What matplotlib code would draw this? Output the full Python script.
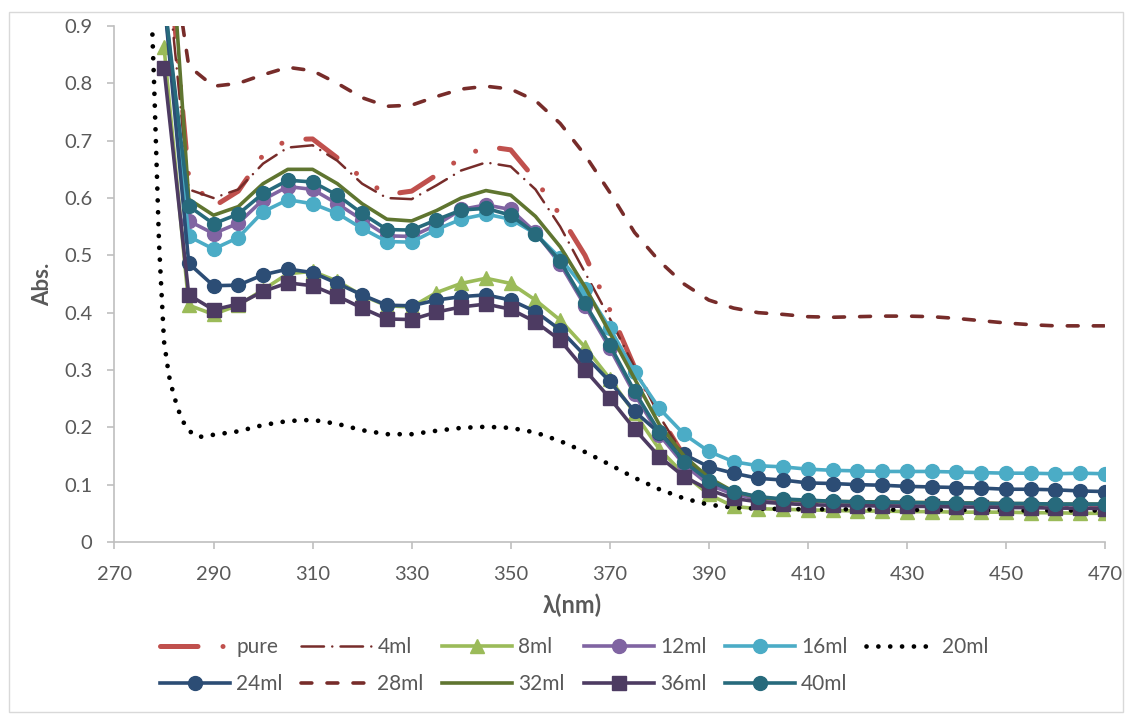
import numpy as np
import matplotlib
matplotlib.use('Agg')
import matplotlib.pyplot as plt
from matplotlib.patches import Rectangle

plt.rcParams['font.family'] = ['Lato', 'DejaVu Sans']

# longitud de onda (nm), cada 5 nm
wl = np.arange(280, 471, 5)

pure = [1.11, 0.635, 0.585, 0.612, 0.675, 0.702, 0.703, 0.670, 0.635, 0.606,
        0.612, 0.640, 0.670, 0.690, 0.684, 0.632, 0.570, 0.500, 0.405, 0.305,
        0.220, 0.150, 0.100, 0.080, 0.073, 0.071, 0.070, 0.069, 0.068, 0.068,
        0.067, 0.067, 0.066, 0.066, 0.065, 0.065, 0.064, 0.064, 0.063]
ml4 = [1.05, 0.615, 0.600, 0.615, 0.660, 0.688, 0.692, 0.665, 0.625, 0.600,
       0.598, 0.622, 0.648, 0.662, 0.655, 0.615, 0.550, 0.470, 0.390, 0.305,
       0.220, 0.150, 0.105, 0.082, 0.075, 0.072, 0.071, 0.070, 0.069, 0.069,
       0.068, 0.068, 0.067, 0.067, 0.066, 0.066, 0.065, 0.065, 0.064]
ml8 = [0.864, 0.413, 0.397, 0.413, 0.440, 0.468, 0.472, 0.455, 0.430, 0.412,
       0.410, 0.435, 0.451, 0.460, 0.451, 0.422, 0.387, 0.340, 0.285, 0.225,
       0.162, 0.118, 0.083, 0.062, 0.058, 0.057, 0.056, 0.055, 0.054, 0.054,
       0.053, 0.053, 0.052, 0.052, 0.052, 0.051, 0.051, 0.050, 0.050]
ml12 = [0.95, 0.560, 0.538, 0.556, 0.597, 0.620, 0.615, 0.590, 0.562, 0.534,
        0.533, 0.553, 0.580, 0.588, 0.580, 0.540, 0.485, 0.412, 0.338, 0.258,
        0.187, 0.135, 0.100, 0.083, 0.076, 0.073, 0.071, 0.070, 0.069, 0.069,
        0.068, 0.068, 0.067, 0.067, 0.066, 0.066, 0.065, 0.065, 0.065]
ml16 = [0.95, 0.533, 0.511, 0.531, 0.576, 0.597, 0.590, 0.573, 0.547, 0.524,
        0.523, 0.545, 0.563, 0.572, 0.563, 0.538, 0.495, 0.442, 0.373, 0.297,
        0.233, 0.188, 0.158, 0.140, 0.133, 0.131, 0.127, 0.125, 0.124, 0.123,
        0.123, 0.123, 0.122, 0.121, 0.120, 0.120, 0.119, 0.120, 0.119]
# 20ml tiene su propia rejilla (sin marcadores)
wl20 = [277, 278, 279, 280, 281, 282, 283, 284, 285, 287, 290, 295, 300, 305,
        310, 315, 320, 325, 330, 335, 340, 345, 350, 355, 360, 365, 370, 375,
        380, 385, 390, 395, 400, 410, 420, 430, 440, 450, 460, 470]
ml20 = [1.05, 0.80, 0.52, 0.35, 0.29, 0.255, 0.228, 0.208, 0.194, 0.183,
        0.187, 0.193, 0.204, 0.211, 0.213, 0.206, 0.195, 0.188, 0.188, 0.194,
        0.199, 0.201, 0.199, 0.191, 0.176, 0.157, 0.135, 0.112, 0.092, 0.076,
        0.065, 0.060, 0.058, 0.057, 0.057, 0.056, 0.056, 0.055, 0.055, 0.055]
ml24 = [0.95, 0.486, 0.447, 0.448, 0.466, 0.476, 0.470, 0.451, 0.431, 0.413,
        0.412, 0.422, 0.428, 0.431, 0.422, 0.402, 0.370, 0.325, 0.280, 0.228,
        0.190, 0.153, 0.131, 0.120, 0.111, 0.108, 0.103, 0.102, 0.100, 0.099,
        0.097, 0.096, 0.095, 0.094, 0.092, 0.092, 0.091, 0.089, 0.088]
ml28 = [1.12, 0.830, 0.795, 0.800, 0.815, 0.828, 0.822, 0.800, 0.775, 0.760,
        0.762, 0.777, 0.790, 0.795, 0.790, 0.770, 0.730, 0.675, 0.610, 0.540,
        0.490, 0.450, 0.422, 0.408, 0.400, 0.397, 0.393, 0.392, 0.393, 0.394,
        0.394, 0.393, 0.390, 0.386, 0.382, 0.379, 0.377, 0.377, 0.377]
ml32 = [1.23, 0.598, 0.570, 0.585, 0.625, 0.650, 0.650, 0.625, 0.590, 0.563,
        0.560, 0.578, 0.600, 0.613, 0.605, 0.568, 0.515, 0.445, 0.365, 0.285,
        0.205, 0.150, 0.112, 0.088, 0.078, 0.074, 0.072, 0.071, 0.070, 0.070,
        0.069, 0.069, 0.068, 0.068, 0.067, 0.067, 0.066, 0.066, 0.066]
ml36 = [0.827, 0.431, 0.405, 0.415, 0.437, 0.452, 0.447, 0.429, 0.408, 0.389,
        0.388, 0.401, 0.410, 0.415, 0.406, 0.384, 0.352, 0.300, 0.251, 0.197,
        0.149, 0.114, 0.091, 0.076, 0.070, 0.067, 0.065, 0.064, 0.063, 0.063,
        0.062, 0.062, 0.061, 0.061, 0.060, 0.060, 0.059, 0.059, 0.058]
ml40 = [0.95, 0.586, 0.555, 0.572, 0.608, 0.631, 0.628, 0.605, 0.573, 0.545,
        0.544, 0.562, 0.579, 0.582, 0.570, 0.538, 0.490, 0.416, 0.344, 0.263,
        0.192, 0.140, 0.107, 0.088, 0.079, 0.075, 0.073, 0.071, 0.070, 0.069,
        0.069, 0.068, 0.068, 0.067, 0.067, 0.067, 0.066, 0.066, 0.066]

fig = plt.figure(figsize=(11.3, 7.17), dpi=100)
ax = fig.add_axes([0.1013, 0.2441, 0.8766, 0.7196])

h = {}
h['pure'], = ax.plot(wl, pure, color='#C0504D', lw=3.6,
                     dashes=(7.5, 5, 0.01, 5, 0.01, 5), dash_capstyle='round')
h['4ml'], = ax.plot(wl, ml4, color='#772C2A', lw=1.8,
                    dashes=(9, 3.3, 0.01, 3.3), dash_capstyle='round')
h['8ml'], = ax.plot(wl, ml8, color='#9BBB59', lw=2.6, marker='^', ms=10)
h['12ml'], = ax.plot(wl, ml12, color='#8064A2', lw=2.6, marker='o', ms=10)
h['16ml'], = ax.plot(wl, ml16, color='#4BACC6', lw=2.6, marker='o', ms=10)
h['20ml'], = ax.plot(wl20, ml20, color='black', lw=3.4,
                     dashes=(0.01, 2.5), dash_capstyle='round')
h['24ml'], = ax.plot(wl, ml24, color='#2C4D75', lw=2.6, marker='o', ms=10)
h['28ml'], = ax.plot(wl, ml28, color='#772C2A', lw=2.6,
                     dashes=(3, 4.2), dash_capstyle='round')
h['32ml'], = ax.plot(wl, ml32, color='#5F7530', lw=2.6)
h['36ml'], = ax.plot(wl, ml36, color='#4D3B62', lw=2.6, marker='s', ms=10)
h['40ml'], = ax.plot(wl, ml40, color='#276A7C', lw=2.6, marker='o', ms=10)

ax.set_xlim(270, 470)
ax.set_ylim(0, 0.9)
ax.set_xticks(np.arange(270, 471, 20))
yt = np.arange(0, 0.91, 0.1)
ax.set_yticks(yt)
ax.set_yticklabels(['%g' % round(v, 1) for v in yt])

for s in ['top', 'right']:
    ax.spines[s].set_visible(False)
for s in ['left', 'bottom']:
    ax.spines[s].set_color('#BFBFBF')
    ax.spines[s].set_linewidth(1.2)
ax.tick_params(direction='out', length=5, width=1.2, color='#BFBFBF',
               labelcolor='#595959', labelsize=14.5)
ax.tick_params(axis='x', pad=12)
ax.tick_params(axis='y', pad=11)

# en Excel el titulo del eje X va centrado en el grafico, no en el area
ax.set_xlabel('λ(nm)', fontsize=17, fontweight='bold', color='#595959',
              labelpad=8, x=0.462)
ax.set_ylabel('Abs.', fontsize=16, fontweight='bold', color='#595959', labelpad=8)

# orden por filas como en Excel
orden = ['pure', '24ml', '4ml', '28ml', '8ml', '32ml', '12ml', '36ml', '16ml', '40ml', '20ml']
fig.legend([h[k] for k in orden], orden, ncol=6, loc='upper left',
           bbox_to_anchor=(0.1342, 0.123), frameon=False, fontsize=15,
           handlelength=3.35, handletextpad=0.3, columnspacing=0.9,
           labelspacing=0.8, borderaxespad=0, labelcolor='#595959')

fig.add_artist(Rectangle((0.008, 0.007), 0.986, 0.976, transform=fig.transFigure,
                         fill=False, edgecolor='#D9D9D9', lw=1))

fig.savefig('out.png', dpi=100)
